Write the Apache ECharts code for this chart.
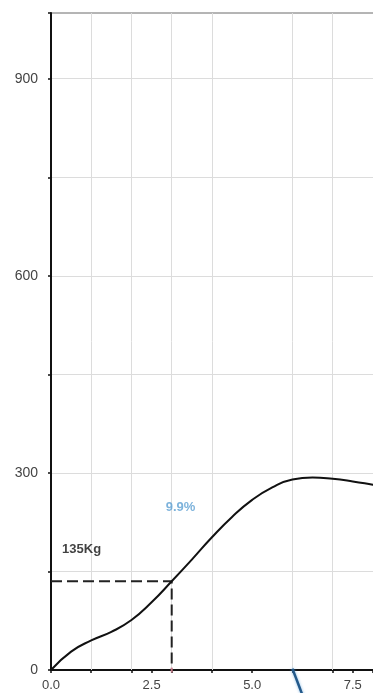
<!DOCTYPE html>
<html>
<head>
<meta charset="utf-8">
<script src="https://cdn.jsdelivr.net/npm/echarts@6/dist/echarts.min.js"></script>
<style>
  html, body { margin: 0; padding: 0; background: #fff; }
  #chart { width: 373px; height: 693px; }
</style>
</head>
<body>
<div id="chart"></div>
<script>
// Load curve (kg) against displacement
const curveX = [0, 0.5, 1, 1.5, 2, 2.5, 3, 3.5, 4, 4.5, 5, 5.5, 6, 6.5, 7, 7.5, 8, 8.5];
const curveY = [0, 28, 45, 58, 76, 103, 135, 168, 202, 233, 259, 278, 290, 293, 291, 287, 282, 277];

// Reading taken off the curve
const readX = 3;
const readY = 135;
const readUnit = 'Kg';
const rateText = '9.9%';

// Second trace, dropping below the baseline
const dropX = [6.0, 6.15, 6.32];
const dropY = [2, -22, -50];

// Vertical grid positions and axis settings
const gridLinesX = [1, 2, 3, 4, 6, 7, 8];
const xLabelStep = 2.5;
const xMinorStep = 1;
const yStep = 150;
const yLabelStep = 300;
const xMax = 8.5;
const yMax = 1000;

const chart = echarts.init(document.getElementById('chart'));
const font = '"Liberation Sans", Arial, sans-serif';

const option = {
  animation: false,
  backgroundColor: '#fff',
  grid: {
    left: 51, top: 13, width: 342, height: 657,
    outerBoundsMode: 'none', containLabel: false,
    show: true, borderColor: '#6a6a6a', borderWidth: 1, backgroundColor: 'transparent'
  },
  xAxis: [
    {
      type: 'value', min: 0, max: xMax, interval: xLabelStep, position: 'bottom',
      axisLine: { show: true, onZero: false, lineStyle: { color: '#111', width: 2 } },
      axisTick: { show: true, length: 3, lineStyle: { color: '#111', width: 1.5 } },
      axisLabel: {
        show: true, margin: 9, color: '#444', fontSize: 13, fontFamily: font,
        formatter: v => v.toFixed(1)
      },
      splitLine: { show: false }
    },
    {
      type: 'value', min: 0, max: xMax, interval: xMinorStep, position: 'bottom',
      axisLine: { show: false, onZero: false },
      axisTick: { show: true, length: 3, lineStyle: { color: '#111', width: 1.5 } },
      axisLabel: { show: false },
      splitLine: { show: false }
    }
  ],
  yAxis: {
    type: 'value', min: 0, max: yMax, interval: yStep,
    axisLine: { show: true, onZero: false, lineStyle: { color: '#111', width: 2 } },
    axisTick: { show: true, length: 3, lineStyle: { color: '#111', width: 1.5 } },
    axisLabel: {
      margin: 13, color: '#444', fontSize: 14, fontFamily: font,
      formatter: v => (v % yLabelStep === 0 ? String(v) : '')
    },
    splitLine: { show: true, showMaxLine: false, lineStyle: { color: '#dcdcdc', width: 1 } }
  },
  series: [
    {
      // vertical grid lines
      type: 'line', data: [], z: 1, silent: true,
      markLine: {
        z: 1, silent: true, symbol: ['none', 'none'], label: { show: false },
        lineStyle: { color: '#dcdcdc', type: 'solid', width: 1 },
        data: gridLinesX.map(v => ({ xAxis: v }))
      }
    },
    {
      type: 'line', smooth: 0.5, showSymbol: false, z: 4,
      lineStyle: { color: '#111', width: 2 },
      data: curveX.map((x, i) => [x, curveY[i]])
    },
    {
      type: 'line', showSymbol: false, z: 3,
      lineStyle: { color: '#222', width: 2, type: [11, 5] },
      data: [[0, readY], [readX, readY], [readX, 0]]
    },
    {
      type: 'scatter', symbol: 'rect', symbolSize: [2, 5], z: 5,
      itemStyle: { color: '#e08a9a' },
      data: [[readX, 0]]
    },
    {
      type: 'line', showSymbol: false, smooth: 0.3, clip: false, z: 5,
      lineStyle: { color: '#23598a', width: 2.5, shadowColor: 'rgba(90,160,220,0.7)', shadowBlur: 3 },
      data: dropX.map((x, i) => [x, dropY[i]])
    },
    {
      type: 'scatter', symbolSize: 0, z: 6, silent: true,
      label: {
        show: true, position: 'inside', color: '#111', fontSize: 13, fontWeight: 'bold', fontFamily: font,
        formatter: () => readY + readUnit
      },
      data: [[0.76, 184]]
    },
    {
      type: 'scatter', symbolSize: 0, z: 6, silent: true,
      label: {
        show: true, position: 'inside', color: '#5b9fd2', fontSize: 13, fontWeight: 'bold', fontFamily: font,
        formatter: () => rateText
      },
      data: [[3.22, 248]]
    }
  ]
};

chart.setOption(option);
</script>
</body>
</html>
